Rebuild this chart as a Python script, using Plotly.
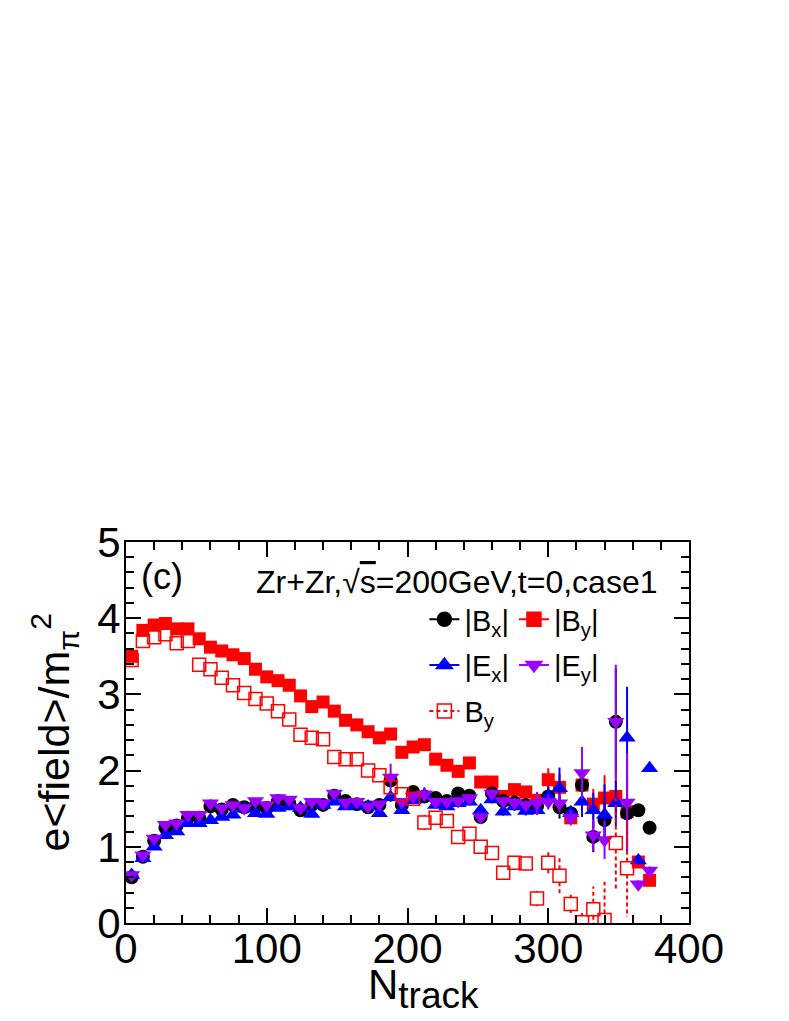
import plotly.graph_objects as go

# N_track bin centres
n_track = [4, 12, 20, 28, 36, 44, 52, 60, 68, 76, 84, 92, 100, 108, 116, 124,
           132, 140, 148, 156, 164, 172, 180, 188, 196, 204, 212, 220, 228, 236,
           244, 252, 260, 268, 276, 284, 292, 300, 308, 316, 324, 332, 340, 348,
           356, 364, 372]
n_track_open = n_track[:45]

# |Bx|
bx = [0.60, 0.87, 1.08, 1.25, 1.28, 1.38, 1.38, 1.53, 1.49, 1.55, 1.52, 1.53, 1.51,
      1.60, 1.57, 1.48, 1.55, 1.55, 1.67, 1.60, 1.56, 1.52, 1.55, 1.87, 1.55, 1.72,
      1.66, 1.64, 1.60, 1.70, 1.67, 1.39, 1.70, 1.60, 1.58, 1.55, 1.53, 1.66, 1.52,
      1.44, 1.81, 1.13, 1.35, 2.64, 1.44, 1.48, 1.25]
bx_err = [0.02, 0.02, 0.02, 0.02, 0.02, 0.02, 0.02, 0.02, 0.02, 0.02, 0.02, 0.02,
          0.02, 0.02, 0.02, 0.02, 0.02, 0.02, 0.03, 0.03, 0.03, 0.03, 0.03, 0.08,
          0.03, 0.04, 0.04, 0.04, 0.04, 0.04, 0.05, 0.05, 0.05, 0.05, 0.06, 0.06,
          0.08, 0.10, 0.15, 0.10, 0.20, 0.20, 0.25, 0.70, 0.50, 0.0, 0.0]

# |By|
by = [3.50, 3.84, 3.91, 3.93, 3.86, 3.86, 3.73, 3.62, 3.57, 3.52, 3.47, 3.33, 3.23,
      3.18, 3.12, 2.98, 2.84, 2.90, 2.78, 2.66, 2.60, 2.51, 2.43, 2.48, 2.24, 2.31,
      2.34, 2.15, 2.07, 1.99, 2.10, 1.85, 1.85, 1.66, 1.75, 1.72, 1.61, 1.88, 1.78,
      1.38, 1.81, 1.56, 1.64, 1.66, 1.46, 0.80, 0.56]
by_err = [0.02, 0.02, 0.02, 0.02, 0.02, 0.02, 0.02, 0.02, 0.02, 0.02, 0.02, 0.02,
          0.02, 0.02, 0.02, 0.02, 0.02, 0.02, 0.02, 0.02, 0.02, 0.02, 0.03, 0.03,
          0.03, 0.03, 0.03, 0.03, 0.03, 0.03, 0.04, 0.04, 0.04, 0.05, 0.05, 0.05,
          0.06, 0.15, 0.18, 0.05, 0.18, 0.20, 0.30, 0.27, 0.30, 0.05, 0.05]

# |Ex|
ex = [0.63, 0.85, 1.00, 1.15, 1.20, 1.31, 1.31, 1.35, 1.39, 1.42, 1.50, 1.44, 1.43,
      1.51, 1.53, 1.51, 1.43, 1.55, 1.59, 1.53, 1.55, 1.53, 1.44, 1.65, 1.48, 1.61,
      1.68, 1.55, 1.53, 1.57, 1.59, 1.48, 1.62, 1.46, 1.53, 1.47, 1.48, 1.66, 1.77,
      1.44, 1.59, 1.48, 1.42, 1.57, 2.43, 0.82, 2.03]
ex_err = [0.02, 0.02, 0.02, 0.02, 0.02, 0.02, 0.02, 0.02, 0.02, 0.02, 0.02, 0.02,
          0.02, 0.02, 0.02, 0.02, 0.02, 0.02, 0.03, 0.03, 0.03, 0.03, 0.03, 0.06,
          0.03, 0.04, 0.10, 0.04, 0.04, 0.04, 0.05, 0.05, 0.05, 0.05, 0.06, 0.06,
          0.06, 0.13, 0.27, 0.10, 0.20, 0.23, 0.40, 0.30, 0.67, 0.05, 0.0]

# |Ey|
ey = [0.63, 0.89, 1.11, 1.29, 1.31, 1.42, 1.42, 1.57, 1.51, 1.55, 1.51, 1.60, 1.55,
      1.64, 1.62, 1.51, 1.59, 1.57, 1.70, 1.58, 1.59, 1.53, 1.56, 1.91, 1.59, 1.66,
      1.69, 1.59, 1.59, 1.60, 1.64, 1.39, 1.70, 1.60, 1.58, 1.55, 1.57, 1.59, 1.57,
      1.38, 1.97, 1.15, 1.09, 2.64, 1.58, 0.51, 0.69]
ey_err = [0.02, 0.02, 0.02, 0.02, 0.02, 0.02, 0.02, 0.02, 0.02, 0.02, 0.02, 0.02,
          0.02, 0.02, 0.02, 0.02, 0.02, 0.02, 0.03, 0.03, 0.03, 0.03, 0.03, 0.18,
          0.03, 0.04, 0.08, 0.04, 0.04, 0.04, 0.05, 0.05, 0.05, 0.05, 0.06, 0.06,
          0.15, 0.10, 0.12, 0.10, 0.34, 0.20, 0.25, 0.75, 0.65, 0.05, 0.05]

# By (signed, open squares)
by_open = [3.45, 3.70, 3.75, 3.79, 3.67, 3.70, 3.39, 3.33, 3.22, 3.12, 3.02, 2.94,
           2.88, 2.78, 2.67, 2.47, 2.43, 2.41, 2.18, 2.15, 2.15, 2.00, 1.94, 1.78,
           1.69, 1.63, 1.32, 1.38, 1.34, 1.13, 1.17, 1.00, 0.92, 0.66, 0.79, 0.78,
           0.32, 0.79, 0.62, 0.25, 0.01, 0.18, 0.04, 1.05, 0.72]
by_open_err = [0.03, 0.03, 0.03, 0.03, 0.03, 0.03, 0.03, 0.03, 0.03, 0.03, 0.03,
               0.03, 0.03, 0.03, 0.03, 0.03, 0.03, 0.03, 0.03, 0.03, 0.03, 0.03,
               0.04, 0.04, 0.04, 0.05, 0.10, 0.06, 0.06, 0.08, 0.08, 0.06, 0.06,
               0.06, 0.06, 0.06, 0.10, 0.16, 0.24, 0.12, 0.12, 0.30, 0.50, 0.60,
               0.64]

FONT = "Liberation Sans, Arial, sans-serif"
RED = "#ff0000"
BLUE = "#0000ff"
VIOLET = "#9900ff"
HALF = 0.085  # half marker height in y units: dashed bars start at the marker edge

# dashed error bars of the open squares (drawn outside the marker, ROOT style)
seg_x, seg_y = [], []
for n, v, e in zip(n_track_open, by_open, by_open_err):
    if e > HALF:
        seg_x += [n, n, None, n, n, None]
        seg_y += [v + HALF, v + e, None, v - HALF, v - e, None]

fig = go.Figure()


def err(arr, color):
    return dict(type="data", array=arr, visible=True, color=color,
                thickness=2, width=0)


fig.add_trace(go.Scatter(x=n_track, y=by, mode="markers", showlegend=False,
                         marker=dict(symbol="square", size=13, color=RED),
                         error_y=err(by_err, RED)))
fig.add_trace(go.Scatter(x=n_track, y=bx, mode="markers", showlegend=False,
                         marker=dict(symbol="circle", size=14, color="black"),
                         error_y=err(bx_err, "black")))
fig.add_trace(go.Scatter(x=n_track, y=ex, mode="markers", showlegend=False,
                         marker=dict(symbol="triangle-up", size=15, color=BLUE),
                         error_y=err(ex_err, BLUE)))
fig.add_trace(go.Scatter(x=n_track, y=ey, mode="markers", showlegend=False,
                         marker=dict(symbol="triangle-down", size=15, color=VIOLET),
                         error_y=err(ey_err, VIOLET)))
fig.add_trace(go.Scatter(x=seg_x, y=seg_y, mode="lines", showlegend=False,
                         line=dict(color=RED, width=2, dash="4px,3px")))
fig.add_trace(go.Scatter(x=n_track_open, y=by_open, mode="markers", showlegend=False,
                         marker=dict(symbol="square-open", size=13, color=RED,
                                     line=dict(width=1.5))))

# legend entries
def leg(name, color, symbol, legend, dash="solid"):
    fig.add_trace(go.Scatter(x=[None], y=[None], mode="lines+markers", name=name,
                             legend=legend,
                             line=dict(color=color, width=2, dash=dash),
                             marker=dict(symbol=symbol, size=14, color=color,
                                         line=dict(width=1.5, color=color))))


leg("|B<sub>x</sub>|", "black", "circle", "legend")
leg("|B<sub>y</sub>|", RED, "square", "legend")
leg("|E<sub>x</sub>|", BLUE, "triangle-up", "legend2")
leg("|E<sub>y</sub>|", VIOLET, "triangle-down", "legend2")
leg("B<sub>y</sub>", RED, "square-open", "legend3", dash="4px,3px")

legend_style = dict(orientation="h", xanchor="left", yanchor="middle", x=0.530,
                    bgcolor="rgba(0,0,0,0)", font=dict(family=FONT, size=29, color="black"),
                    itemclick=False, itemdoubleclick=False)

axis_common = dict(showgrid=False, zeroline=False, showline=True, linecolor="black",
                   linewidth=2, mirror="ticks", ticks="inside", ticklen=15,
                   tickwidth=1.5, tickcolor="black",
                   tickfont=dict(family=FONT, size=42, color="black"))

fig.update_layout(
    width=789, height=1021,
    margin=dict(l=118, r=108, t=534, b=106),
    plot_bgcolor="white", paper_bgcolor="white",
    font=dict(family=FONT, color="black"),
    xaxis=dict(range=[0, 400], dtick=100,
               minor=dict(ticks="inside", ticklen=8, dtick=20, tickcolor="black"),
               ticklabelstandoff=-12, **axis_common),
    yaxis=dict(range=[0, 5], dtick=1,
               minor=dict(ticks="inside", ticklen=8, dtick=0.2, tickcolor="black"),
               ticklabelstandoff=-5, **axis_common),
    legend=dict(y=0.797, **legend_style),
    legend2=dict(y=0.677, **legend_style),
    legend3=dict(y=0.556, **legend_style),
    showlegend=True,
)

fig.add_annotation(text="(c)", x=0.064, y=0.91, xref="paper", yref="paper",
                   showarrow=False, xanchor="center", yanchor="middle",
                   font=dict(family=FONT, size=36))
fig.add_annotation(text="Zr+Zr,√<span style='text-decoration:overline'>s</span>=200GeV,t=0,case1",
                   x=0.227, y=0.895, xref="paper", yref="paper", showarrow=False,
                   xanchor="left", yanchor="middle", font=dict(family=FONT, size=32))
fig.add_annotation(text="e&lt;field&gt;/m<sub>π</sub><sup>2</sup>", textangle=-90,
                   x=-0.128, y=0.5, xref="paper", yref="paper", showarrow=False,
                   xanchor="center", yanchor="middle", font=dict(family=FONT, size=43))
fig.add_annotation(text="N<sub><span style='font-size:37px'>track</span></sub>",
                   x=0.528, y=-0.094, xref="paper",
                   yref="paper", showarrow=False, xanchor="center", yanchor="top",
                   font=dict(family=FONT, size=42))

fig.write_html("out.html")
